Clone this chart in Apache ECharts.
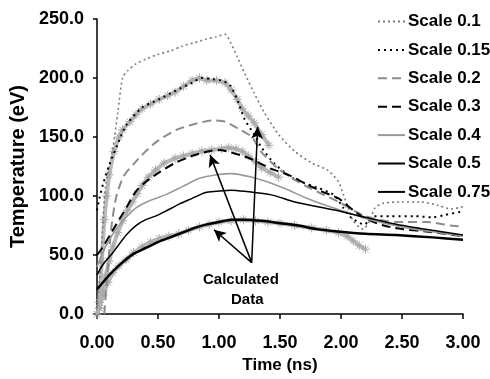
<!DOCTYPE html>
<html>
<head>
<meta charset="utf-8">
<script src="https://cdn.jsdelivr.net/npm/echarts@6/dist/echarts.min.js"></script>
<style>html,body{margin:0;padding:0;background:#fff}#c{width:490px;height:379px}</style>
</head>
<body>
<div id="c"></div>
<script>
// ---- data (time in ns, temperature in eV) ----
const xTicks = [0, 0.5, 1.0, 1.5, 2.0, 2.5, 3.0];
const yTicks = [0, 50, 100, 150, 200, 250];

const t01 = [0.0,0.03,0.05,0.07,0.10,0.13,0.17,0.21,0.25,0.32,0.40,0.50,0.60,0.70,0.80,0.90,0.98,1.05,1.10,1.15,1.21,1.29,1.37,1.49,1.62,1.76,1.89,1.98,2.02,2.06,2.10,2.18,2.23,2.28,2.35,2.50,2.65,2.80,2.90,3.00];
const T01 = [5,40,80,108,125,140,170,200,206,212,216,220,223,227,230,233,235,237,229,218,204,187,171,152,138,128,122,112,101,90,79,72,78,90,94,95,95,92,89,91];

const t015 = [0.0,0.02,0.05,0.10,0.17,0.24,0.37,0.51,0.64,0.78,0.86,0.95,1.02,1.09,1.16,1.21,1.29,1.35,1.45,1.59,1.70,1.81,1.94,2.02,2.08,2.19,2.27,2.40,2.60,2.75,2.85,3.00];
const T015 = [88,98,110,126,144,160,175,182,189,196,200,199,198,194,179,165,152,141,128,116,111,107,101,90,82,76,83,83,83,82,84,87];

const t02 = [0.06,0.09,0.12,0.16,0.22,0.30,0.40,0.50,0.65,0.80,0.95,1.05,1.16,1.27,1.35,1.50,1.65,1.80,2.00,2.20,2.45,2.70,2.90,3.00];
const T02 = [0,40,75,100,117,127,138,147,156,161,164,163,157,150,137,122,112,104,94,83,78,78,75,74];

const t03 = [0.0,0.05,0.13,0.24,0.32,0.40,0.51,0.64,0.78,0.92,1.00,1.10,1.25,1.43,1.57,1.70,1.84,1.98,2.10,2.20,2.35,2.50,2.70,2.85,3.00];
const T03 = [50,57,71,90,104,112,120,128,134,138,139,137,132,123,118,111,104,98,88,81,75,72,70,68,66];

const t04 = [0.0,0.07,0.15,0.24,0.32,0.43,0.56,0.70,0.84,0.98,1.10,1.27,1.40,1.55,1.70,1.85,2.00,2.20,2.40,2.60,2.80,3.00];
const T04 = [40,57,71,82,90,96,101,108,115,118,119,116,112,106,99,93,88,81,76,72,69,66];

const t05 = [0.0,0.05,0.13,0.24,0.32,0.40,0.48,0.56,0.67,0.78,0.89,0.98,1.10,1.21,1.43,1.62,1.81,2.00,2.20,2.46,2.75,3.00];
const T05 = [33,42,52,67,75,80,83,87,93,98,103,104,105,104,101,95,91,87,82,76,71,67];

const t075 = [0.0,0.05,0.10,0.20,0.30,0.40,0.50,0.60,0.70,0.80,0.90,1.00,1.10,1.20,1.35,1.50,1.65,1.80,1.97,2.20,2.45,2.75,3.00];
const T075 = [21,27,33,43,51,56,61,65,69,73,76,78,80,80,79,77,75,72,70,68,67,65,63];

// calculated data (grey star bands)
const tCalcA = [0.02,0.04,0.06,0.08,0.10,0.14,0.18,0.21,0.27,0.32,0.37,0.44,0.51,0.58,0.64,0.71,0.78,0.84,0.90,0.98,1.05,1.10,1.15,1.19,1.24,1.29,1.35,1.41];
const TCalcA = [10,45,80,100,118,138,150,156,163,169,174,178,182,185,188,193,198,200,198,198,196,190,182,174,168,162,152,143];

const tCalcB = [0.02,0.05,0.07,0.10,0.13,0.17,0.21,0.25,0.29,0.33,0.37,0.42,0.48,0.55,0.64,0.71,0.78,0.86,0.94,1.02,1.08,1.14,1.19,1.24,1.30,1.35,1.42,1.49];
const TCalcB = [5,20,32,45,57,69,79,88,95,102,109,116,122,128,132,134,136,138,139,140,141,140,138,134,129,124,120,116];

const tCalcC = [0.0,0.02,0.05,0.09,0.13,0.18,0.24,0.30,0.37,0.44,0.51,0.59,0.67,0.75,0.84,0.92,1.00,1.10,1.20,1.30,1.40,1.50,1.62,1.76,1.88,1.98,2.05,2.10,2.15,2.20];
const TCalcC = [0,5,16,27,35,41,46,52,57,61,64,66,68,71,74,76,78,79,80,79,78,77,75,73,71,69,66,62,58,55];

const seriesNames = ['Scale 0.1','Scale 0.15','Scale 0.2','Scale 0.3','Scale 0.4','Scale 0.5','Scale 0.75'];
const annotationText = ['Calculated', 'Data'];

// ---- build ----
const zip = (a, b) => a.map((v, i) => [v, b[i]]);
const FONT = "'Liberation Sans', Arial, sans-serif";
const star = 'path://M0,-5L0,5M-5,0L5,0M-3.6,-3.6L3.6,3.6M-3.6,3.6L3.6,-3.6';

function calcSeries(name, data) {
  return {
    name: name, type: 'line', data: data, z: 1,
    lineStyle: { color: '#b9b9b9', width: 4 },
    symbol: star, symbolSize: 9, showSymbol: true,
    itemStyle: { color: 'none', borderColor: '#a8a8a8', borderWidth: 1 },
    silent: true, animation: false
  };
}
function modelSeries(name, data, color, width, dash, z) {
  return {
    name: name, type: 'line', data: data, z: z || 3,
    symbol: 'none', smooth: 0.25,
    lineStyle: { color: color, width: width, type: dash || 'solid', cap: 'butt' },
    itemStyle: { color: color },
    animation: false
  };
}

const chart = echarts.init(document.getElementById('c'), null, { renderer: 'canvas' });
const arrowBase = [1.268, 43.6];
const option = {
  backgroundColor: '#fff',
  animation: false,
  grid: { left: 94, right: 27, top: 19, bottom: 56, containLabel: false },
  legend: {
    data: seriesNames,
    orient: 'vertical', left: 372, top: 8,
    itemWidth: 27, itemHeight: 14, itemGap: 11.4,
    itemStyle: { opacity: 0 },
    textStyle: { fontFamily: FONT, fontWeight: 'bold', fontSize: 17, color: '#000', padding: [0, 0, 0, -2] },
    selectedMode: false
  },
  xAxis: {
    type: 'value', min: 0, max: 3, interval: 0.5,
    name: 'Time (ns)', nameLocation: 'middle', nameGap: 37,
    nameTextStyle: { fontFamily: FONT, fontWeight: 'bold', fontSize: 17, color: '#000' },
    axisLine: { lineStyle: { color: '#000', width: 1.5 } },
    axisTick: { show: true, length: 5, lineStyle: { color: '#000', width: 1.5 } },
    axisLabel: { margin: 20, fontFamily: FONT, fontWeight: 'bold', fontSize: 18, color: '#000',
      formatter: v => v.toFixed(2) },
    splitLine: { show: false }
  },
  yAxis: {
    type: 'value', min: 0, max: 250, interval: 50,
    name: 'Temperature (eV)', nameLocation: 'middle', nameGap: 63,
    nameTextStyle: { fontFamily: FONT, fontWeight: 'bold', fontSize: 20, color: '#000' },
    axisLine: { show: true, lineStyle: { color: '#000', width: 1.5 } },
    axisTick: { show: true, length: 4, lineStyle: { color: '#000', width: 1.5 } },
    axisLabel: { margin: 13, fontFamily: FONT, fontWeight: 'bold', fontSize: 18, color: '#000',
      formatter: v => v.toFixed(1) },
    splitLine: { show: false }
  },
  series: [
    calcSeries('calcA', zip(tCalcA, TCalcA)),
    calcSeries('calcB', zip(tCalcB, TCalcB)),
    Object.assign(calcSeries('calcC', zip(tCalcC, TCalcC)), {
      markLine: {
        silent: true, symbol: ['none', 'arrow'], symbolSize: [9, 12],
        lineStyle: { color: '#000', width: 1.5, type: 'solid' },
        label: { show: false },
        data: [
          [{ coord: arrowBase }, { coord: [0.927, 134.9] }],
          [{ coord: arrowBase }, { coord: [1.317, 158.7] }],
          [{ coord: arrowBase }, { coord: [0.959, 71.5] }]
        ]
      }
    }),
    modelSeries('Scale 0.1', zip(t01, T01), '#7a7a7a', 1.6, [2, 3]),
    modelSeries('Scale 0.15', zip(t015, T015), '#000', 2, [2, 4]),
    modelSeries('Scale 0.2', zip(t02, T02), '#8c8c8c', 2, [9, 5]),
    modelSeries('Scale 0.3', zip(t03, T03), '#000', 2, [9, 5]),
    modelSeries('Scale 0.4', zip(t04, T04), '#999', 1.6),
    modelSeries('Scale 0.5', zip(t05, T05), '#000', 1.5),
    modelSeries('Scale 0.75', zip(t075, T075), '#000', 2.5)
  ],
  graphic: [
    { type: 'text', left: 203, top: 272, style: { text: annotationText[0], font: 'bold 15px ' + FONT, fill: '#000' } },
    { type: 'text', left: 231, top: 292, style: { text: annotationText[1], font: 'bold 15px ' + FONT, fill: '#000' } }
  ]
};
chart.setOption(option);
</script>
</body>
</html>
